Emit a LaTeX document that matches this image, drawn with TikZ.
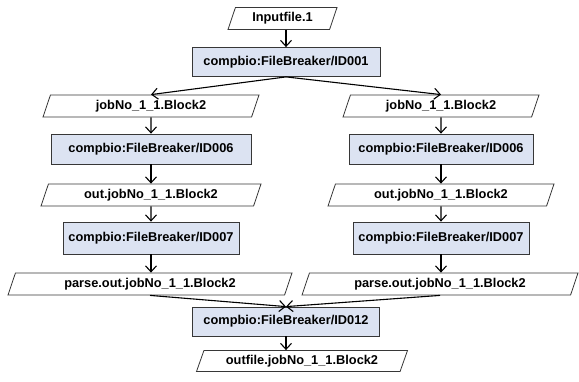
\documentclass[tikz,border=0pt]{standalone}
\usepackage{fontspec}
\setmainfont{Liberation Sans}
\usetikzlibrary{arrows.meta,shapes.geometric}
\definecolor{boxfill}{RGB}{220,227,242}
\definecolor{edgegray}{RGB}{55,55,55}

\begin{document}
\begin{tikzpicture}[x=1pt,y=-1pt,
    proc/.style={draw=edgegray,fill=boxfill,line width=0.8pt,minimum height=29pt,inner sep=2pt,font=\bfseries\fontsize{12.8}{14}\selectfont},
    data/.style={trapezium,trapezium left angle=65,trapezium right angle=115,trapezium stretches body,draw=edgegray,fill=white,line width=0.8pt,minimum height=22pt,inner sep=2pt,font=\bfseries\fontsize{12.8}{14}\selectfont},
    flow/.style={-{Straight Barb[length=6pt,width=11pt,line width=1.1pt]},line width=1.1pt}]
    \useasboundingbox (0,0) rectangle (579,381);

    \node[data,minimum width=109pt] (in1) at (282.5,18.5) {Inputfile.1};
    \node[proc,minimum width=188pt] (id001) at (286,62) {compbio:FileBreaker/ID001};

    \node[data,minimum width=216pt] (jobL) at (151,106) {jobNo\_1\_1.Block2};
    \node[proc,minimum width=200pt,minimum height=30pt] (id006L) at (151,149) {compbio:FileBreaker/ID006};
    \node[data,minimum width=220pt] (outL) at (151,195) {out.jobNo\_1\_1.Block2};
    \node[proc,minimum width=176pt,minimum height=32pt] (id007L) at (151,238) {compbio:FileBreaker/ID007};
    \node[data,minimum width=284pt] (parseL) at (150,284) {parse.out.jobNo\_1\_1.Block2};

    \node[data,minimum width=196pt] (jobR) at (441,106) {jobNo\_1\_1.Block2};
    \node[proc,minimum width=184pt,minimum height=30pt] (id006R) at (441,149) {compbio:FileBreaker/ID006};
    \node[data,minimum width=226pt] (outR) at (441,195) {out.jobNo\_1\_1.Block2};
    \node[proc,minimum width=176pt,minimum height=32pt] (id007R) at (441,238) {compbio:FileBreaker/ID007};
    \node[data,minimum width=276pt] (parseR) at (440,284) {parse.out.jobNo\_1\_1.Block2};

    \node[proc,minimum width=187pt] (id012) at (286,321.5) {compbio:FileBreaker/ID012};
    \node[data,minimum width=211pt,minimum height=21pt] (outfile) at (302,361) {outfile.jobNo\_1\_1.Block2};

    \draw[flow] (id001.north |- in1.south) -- (id001.north);
    \draw[flow] (id001.south) -- (jobL.north);
    \draw[flow] (id001.south) -- (jobR.north);
    \draw[flow] (jobL) -- (id006L);
    \draw[flow] (id006L) -- (outL);
    \draw[flow] (outL) -- (id007L);
    \draw[flow] (id007L) -- (parseL.north -| id007L.south);
    \draw[flow] (jobR) -- (id006R);
    \draw[flow] (id006R) -- (outR);
    \draw[flow] (outR) -- (id007R);
    \draw[flow] (id007R) -- (parseR.north -| id007R.south);
    \draw[flow] (parseL.south) -- (id012.north);
    \draw[flow] (parseR.south) -- (id012.north);
    \draw[flow] (id012.south) -- (id012.south |- outfile.north);
\end{tikzpicture}
\end{document}
